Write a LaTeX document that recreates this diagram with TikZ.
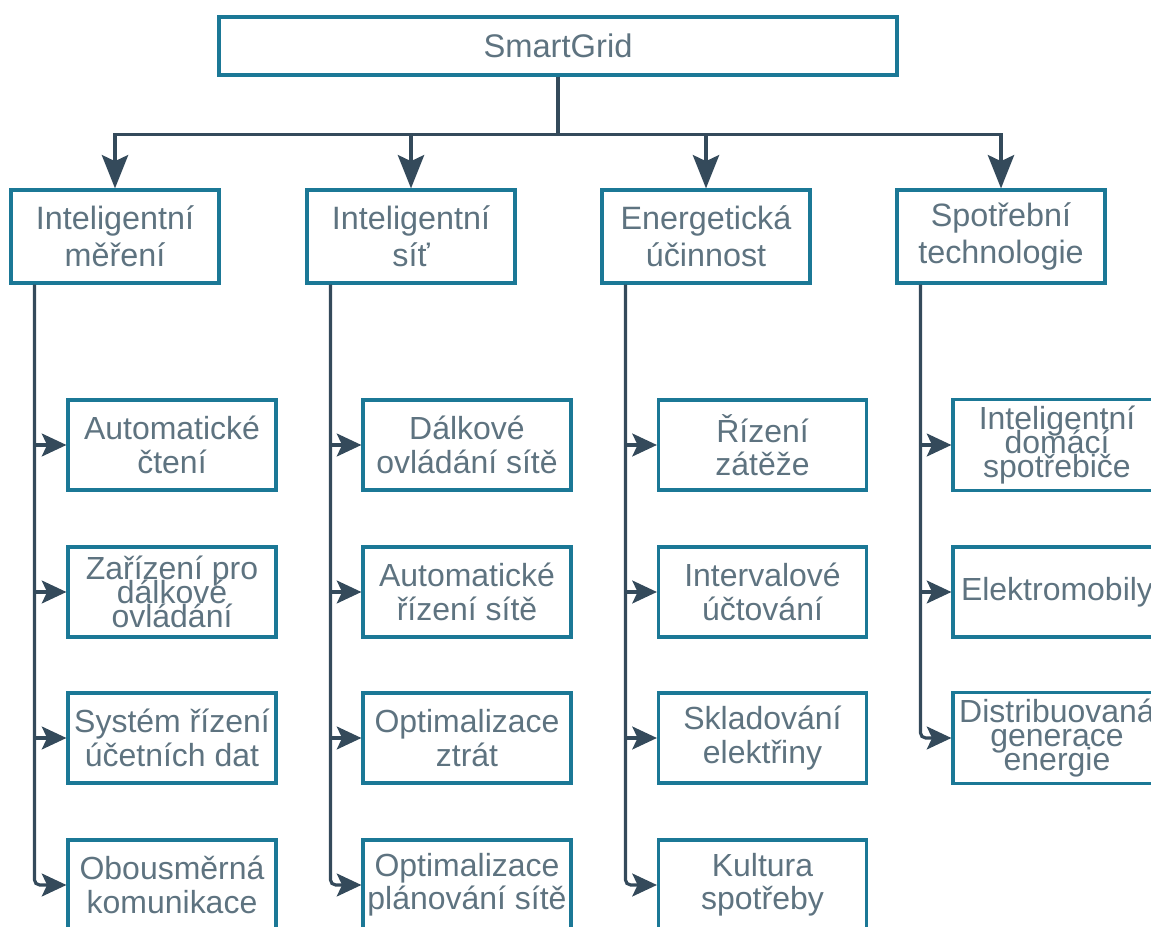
\documentclass[tikz,border=0pt]{standalone}
\usepackage{fontspec}
\setmainfont{Liberation Sans}
\usepackage{tikz}
\usetikzlibrary{arrows.meta,positioning,calc}

\definecolor{boxteal}{HTML}{1B7896}
\definecolor{linkslate}{HTML}{344A5B}
\definecolor{txtgray}{HTML}{5E7380}
\newcommand{\tightlines}{\fontsize{18.2}{13.8}\selectfont\lineskiplimit -30pt\relax\lineskip 0pt\relax}

\begin{document}
\begin{tikzpicture}[
    root/.style={draw=boxteal, line width=1.8pt, minimum width=13.56cm, minimum height=1.16cm, font=\fontsize{18.6}{20}\selectfont, text=txtgray},
    area/.style={draw=boxteal, line width=1.8pt, minimum width=4.16cm, minimum height=1.86cm, inner xsep=1pt, align=center, font=\fontsize{18.4}{21}\selectfont, text=txtgray},
    leaf/.style={draw=boxteal, line width=1.8pt, minimum width=4.16cm, minimum height=1.8cm, inner xsep=1pt, align=center, font=\fontsize{18.2}{19}\selectfont, text=txtgray},
    tight/.style={font=\tightlines},
    arr/.style={-{Stealth[length=19pt, width=15pt, inset=3.5pt]}, line width=1.8pt, draw=linkslate},
    sidearr/.style={-{Stealth[length=14pt, width=13pt, inset=3pt]}, line width=1.8pt, draw=linkslate}
]
\useasboundingbox (0,0) rectangle (23.02,-18.54);

\node[root] (root) at (11.16,-0.92) {SmartGrid};

\node[area] (p1) at (2.30,-4.73) {Inteligentní\\měření};
\node[area] (p2) at (8.22,-4.73) {Inteligentní\\síť};
\node[area] (p3) at (14.12,-4.73) {Energetická\\účinnost};
\node[area] (p4) at (20.02,-4.73) {Spotřební\\technologie};

\draw[arr] (root.south) -- ++(0,-1.16) -| (p1.north);
\draw[arr] (root.south) -- ++(0,-1.16) -| (p2.north);
\draw[arr] (root.south) -- ++(0,-1.16) -| (p3.north);
\draw[arr] (root.south) -- ++(0,-1.16) -| (p4.north);

% Inteligentni mereni
\node[leaf] (a1) at (3.44,-8.90) {Automatické\\čtení};
\node[leaf, tight] (a2) at (3.44,-11.84) {Zařízení pro\\dálkové\\ovládání};
\node[leaf] (a3) at (3.44,-14.76) {Systém řízení\\účetních dat};
\node[leaf] (a4) at (3.44,-17.70) {Obousměrná\\komunikace};

% Inteligentni sit
\node[leaf] (b1) at (9.34,-8.90) {Dálkové\\ovládání sítě};
\node[leaf] (b2) at (9.34,-11.84) {Automatické\\řízení sítě};
\node[leaf] (b3) at (9.34,-14.76) {Optimalizace\\ztrát};
\node[leaf] (b4) at (9.34,-17.70) {Optimalizace\\plánování sítě};

% Energeticka ucinnost
\node[leaf] (c1) at (15.25,-8.90) {Řízení\\zátěže};
\node[leaf] (c2) at (15.25,-11.84) {Intervalové\\účtování};
\node[leaf] (c3) at (15.25,-14.76) {Skladování\\elektřiny};
\node[leaf] (c4) at (15.25,-17.70) {Kultura\\spotřeby};

% Spotrebni technologie
\node[leaf, tight] (d1) at (21.14,-8.90) {Inteligentní\\domácí\\spotřebiče};
\node[leaf] (d2) at (21.14,-11.84) {Elektromobily};
\node[leaf, tight] (d3) at (21.14,-14.76) {Distribuovaná\\generace\\energie};

\draw[sidearr] ([xshift=0.5cm]p1.south west) |- (a1.west);
\draw[sidearr] ([xshift=0.5cm]p1.south west) |- (a2.west);
\draw[sidearr] ([xshift=0.5cm]p1.south west) |- (a3.west);
\draw[sidearr, rounded corners=3pt] ([xshift=0.5cm]p1.south west) |- (a4.west);

\draw[sidearr] ([xshift=0.5cm]p2.south west) |- (b1.west);
\draw[sidearr] ([xshift=0.5cm]p2.south west) |- (b2.west);
\draw[sidearr] ([xshift=0.5cm]p2.south west) |- (b3.west);
\draw[sidearr, rounded corners=3pt] ([xshift=0.5cm]p2.south west) |- (b4.west);

\draw[sidearr] ([xshift=0.5cm]p3.south west) |- (c1.west);
\draw[sidearr] ([xshift=0.5cm]p3.south west) |- (c2.west);
\draw[sidearr] ([xshift=0.5cm]p3.south west) |- (c3.west);
\draw[sidearr, rounded corners=3pt] ([xshift=0.5cm]p3.south west) |- (c4.west);

\draw[sidearr] ([xshift=0.5cm]p4.south west) |- (d1.west);
\draw[sidearr] ([xshift=0.5cm]p4.south west) |- (d2.west);
\draw[sidearr, rounded corners=3pt] ([xshift=0.5cm]p4.south west) |- (d3.west);
\end{tikzpicture}
\end{document}
